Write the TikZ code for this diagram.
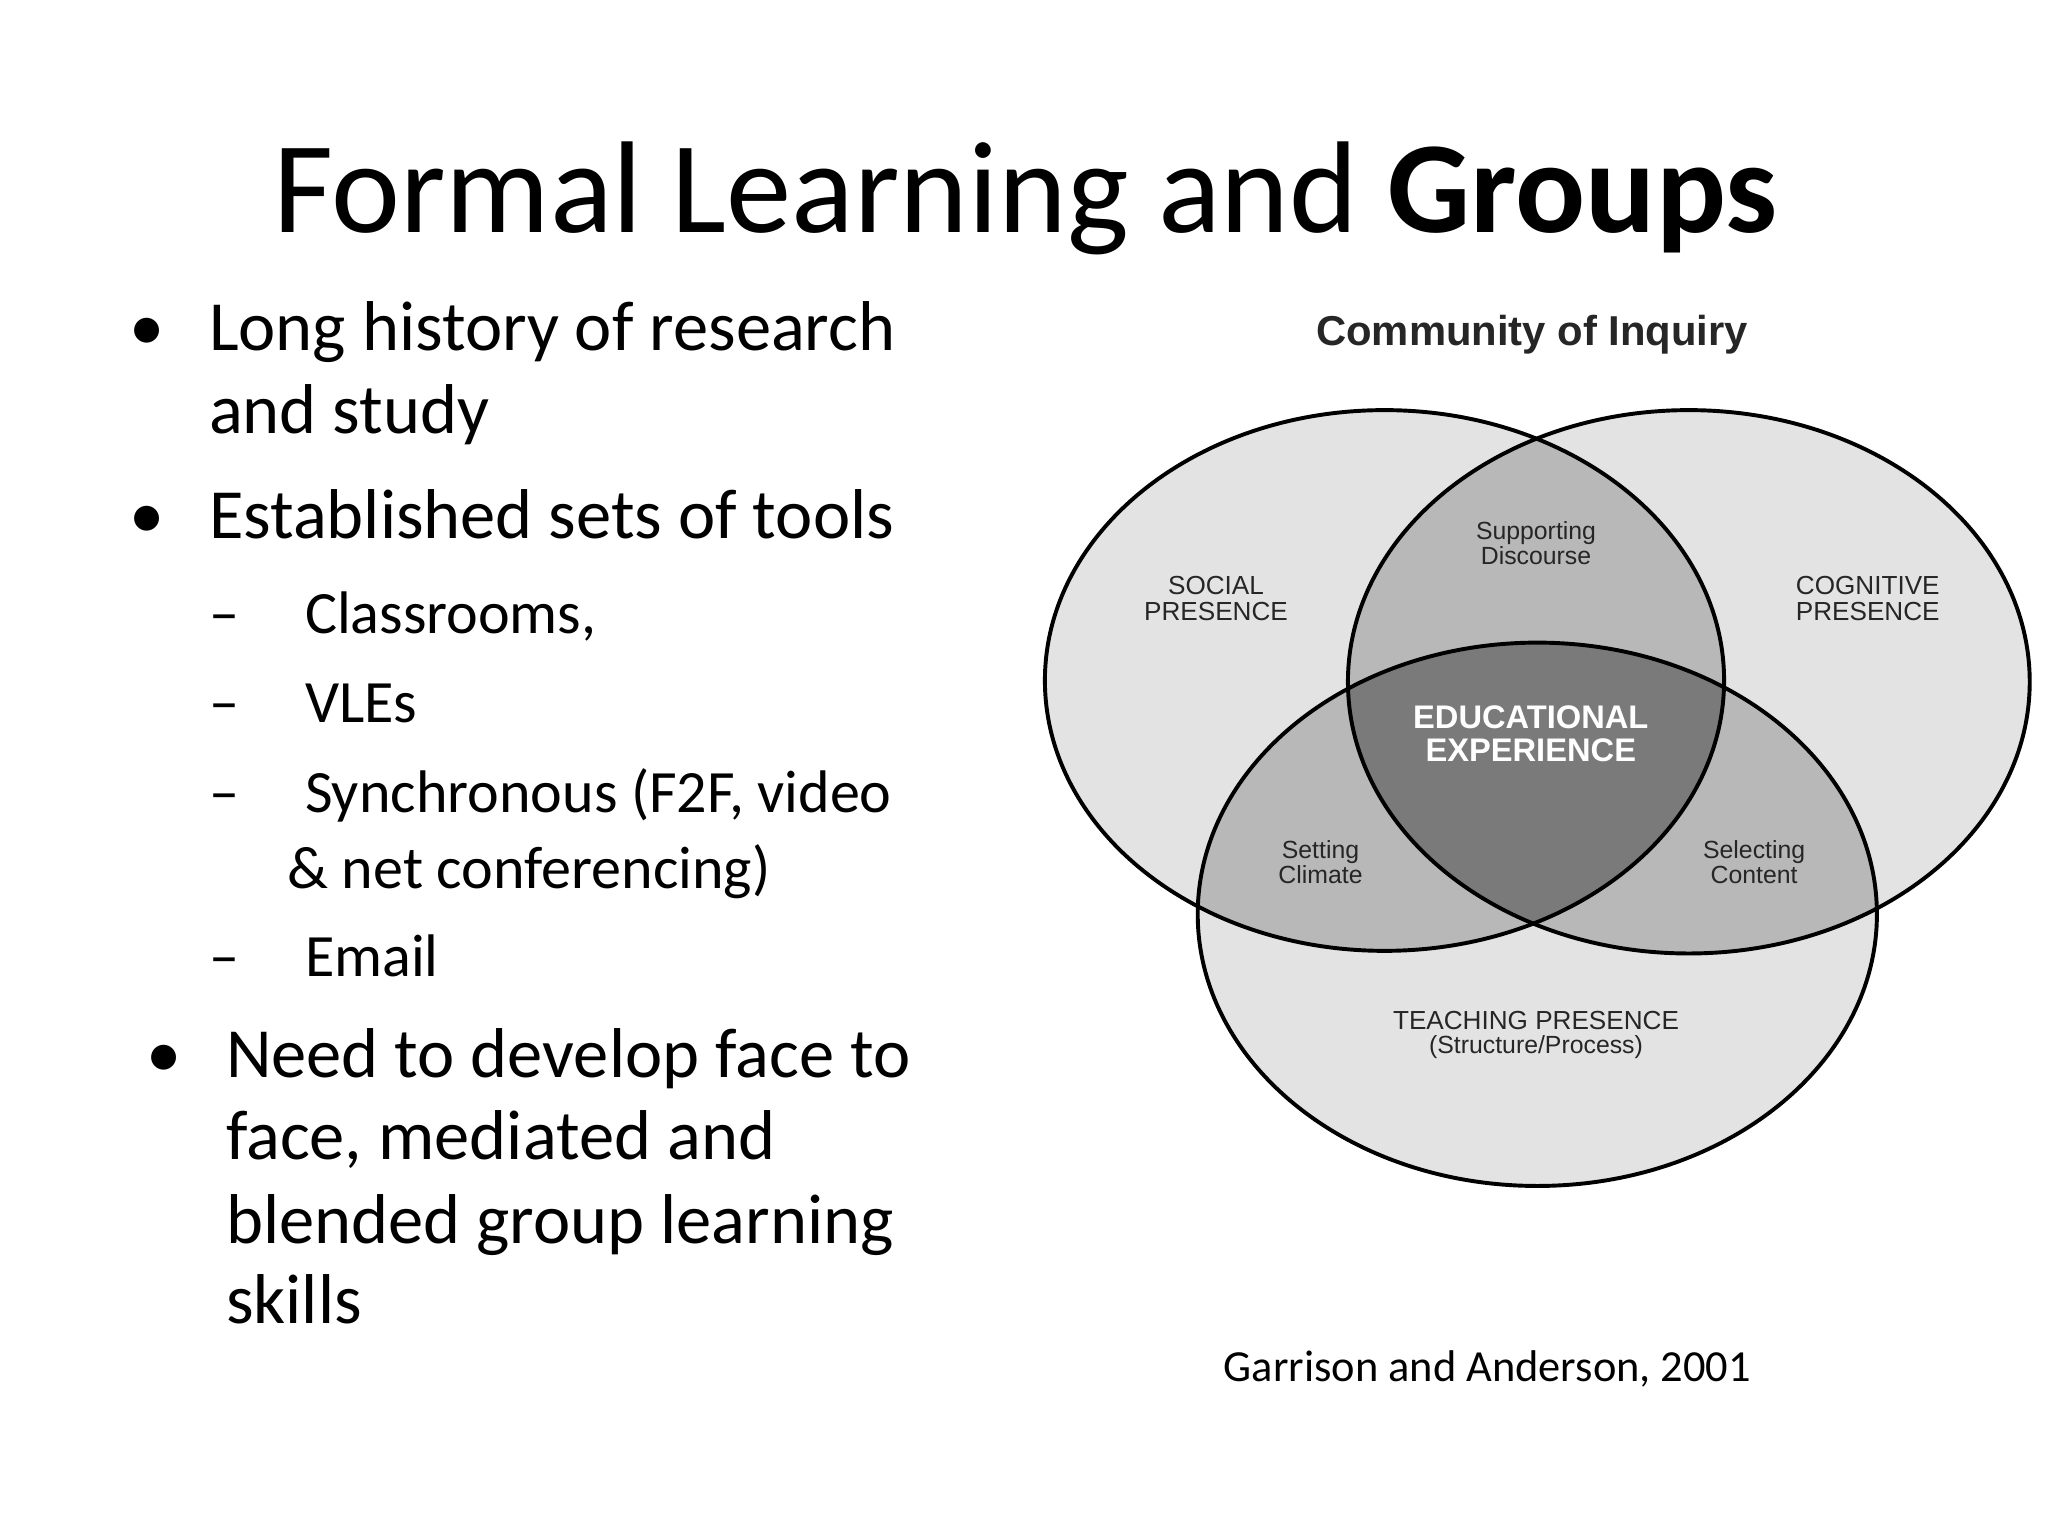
\documentclass[tikz,border=0pt]{standalone}
\usepackage{fontspec}
\setmainfont{Carlito}
\newfontfamily\arial{Liberation Sans}
\begin{document}
\begin{tikzpicture}[x=0.5pt,y=-0.5pt,
  lbl/.style={font=\arial\fontsize{10}{10}\selectfont,align=center,text=black!85},
  bl/.style={anchor=base west,font=\fontsize{27}{27}\selectfont},
  sb/.style={anchor=base west,font=\fontsize{23}{23}\selectfont},
  ring/.style={draw=black,line width=1.5pt}]
\fill[white] (0,0) rectangle (1568,1176);
% title
\node[anchor=base,font=\fontsize{50}{50}\selectfont] (title) at (785,178) {Formal Learning and \textbf{Groups}};
% bullets
\node[bl] (b1) at (92,268) {\textbullet};
\node[bl] (t1) at (153,268) {Long history of research};
\node[bl] (t1b) at (153,332) {and study};
\node[bl] (b2) at (92,412) {\textbullet};
\node[bl] (t2) at (153,412) {Established sets of tools};
\node[sb] (s1) at (153,485) {--\hspace{1.1em}Classrooms,};
\node[sb] (s2) at (153,553) {--\hspace{1.1em}VLEs};
\node[sb] (s3) at (153,622) {--\hspace{1.1em}Synchronous (F2F, video};
\node[sb] (s3b) at (213,680) {\& net conferencing)};
\node[sb] (s4) at (153,748) {--\hspace{1.1em}Email};
\node[bl] (b3) at (105,825) {\textbullet};
\node[bl] (t3) at (166,825) {Need to develop face to};
\node[bl] (t3b) at (166,888) {face, mediated and};
\node[bl] (t3c) at (166,952) {blended group learning};
\node[bl] (t3d) at (166,1013) {skills};
\node[anchor=base west,font=\fontsize{17}{17}\selectfont] (cite) at (930,1058) {Garrison and Anderson, 2001};
% diagram
\node[font=\arial\bfseries\fontsize{16}{16}\selectfont,text=black!85] (coi) at (1173,256) {Community of Inquiry};
\def\S{(1060,521) ellipse [x radius=260,y radius=207]}
\def\C{(1293,522) ellipse [x radius=261,y radius=208]}
\def\T{(1177,700) ellipse [x radius=260,y radius=208]}
\fill[black!11] \S; \fill[black!11] \C; \fill[black!11] \T;
\begin{scope}\clip \S; \fill[black!28] \C; \fill[black!28] \T; \end{scope}
\begin{scope}\clip \C; \fill[black!28] \T; \end{scope}
\begin{scope}\clip \S; \clip \C; \fill[black!52] \T; \end{scope}
\draw[ring] \S; \draw[ring] \C; \draw[ring] \T;
\node[lbl] (sp) at (931,458) {SOCIAL\\PRESENCE};
\node[lbl] (cp) at (1430,458) {COGNITIVE\\PRESENCE};
\node[lbl,font=\arial\fontsize{9.5}{9.5}\selectfont] (sd) at (1176,416) {Supporting\\Discourse};
\node[lbl,font=\arial\fontsize{9.5}{9.5}\selectfont] (sc) at (1011,660) {Setting\\Climate};
\node[lbl,font=\arial\fontsize{9.5}{9.5}\selectfont] (sl) at (1343,660) {Selecting\\Content};
\node[lbl,font=\arial\bfseries\fontsize{12.5}{12.5}\selectfont,text=white] (ee) at (1172,562) {EDUCATIONAL\\EXPERIENCE};
\node[lbl] (tp) at (1176,781) {TEACHING PRESENCE};
\node[lbl,font=\arial\fontsize{9.5}{9.5}\selectfont] (tps) at (1176,802) {(Structure/Process)};
\end{tikzpicture}
\end{document}
